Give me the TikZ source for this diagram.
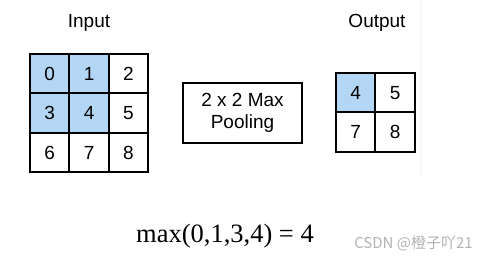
\documentclass[tikz,border=0pt]{standalone}
\usepackage{fontspec}
\setmainfont{Liberation Sans}
\newfontfamily\serifnum{Liberation Serif}
\newfontfamily\cjk{Noto Sans CJK SC}
\usetikzlibrary{positioning}
\definecolor{cellBlue}{RGB}{180, 214, 245}
\definecolor{markGray}{RGB}{178, 178, 178}
\tikzset{
  cell/.style={draw, line width=2pt, minimum size=39.4pt, inner sep=0pt,
    font=\fontsize{19}{22}\selectfont},
  title/.style={font=\fontsize{19}{22}\selectfont}
}

\begin{document}
\begin{tikzpicture}[x=1pt, y=-1pt]
      \useasboundingbox (0,0) rectangle (493,259);

      % input grid
      \foreach \r in {0,1,2}
        \foreach \c in {0,1,2} {
          \pgfmathtruncatemacro{\v}{3*\r+\c}
          \ifnum\r<2 \ifnum\c<2 \def\fc{cellBlue}\else\def\fc{white}\fi\else\def\fc{white}\fi
          \node[cell, fill=\fc] (in\v) at (49.7+39.4*\c, 73.7+39.4*\r) {\v};
        }
      \node[title] (inlabel) at (89,22.5) {Input};

      % pooling box
      \node[draw, line width=2pt, minimum width=119pt, minimum height=60pt,
        align=center, font=\fontsize{19}{22}\selectfont] (pool) at (242.5,113)
        {2 x 2 Max\\Pooling};

      % output grid
      \node[cell, fill=cellBlue] (out4) at (355.7,92.7) {4};
      \node[cell] (out5) at (395.1,92.7) {5};
      \node[cell] (out7) at (355.7,132.1) {7};
      \node[cell] (out8) at (395.1,132.1) {8};
      \node[title] (outlabel) at (377,22.5) {Output};

      \draw[black!3, line width=1.5pt] (421,0) -- (421,175);

      \node[font=\serifnum\fontsize{26.5}{30}\selectfont] (formula) at (225,236)
        {max(0,1,3,4) = 4};
      \node[text=markGray, font=\cjk\fontsize{15}{18}\selectfont] (mark) at (413.5,243)
        {CSDN @橙子吖21};
\end{tikzpicture}
\end{document}
